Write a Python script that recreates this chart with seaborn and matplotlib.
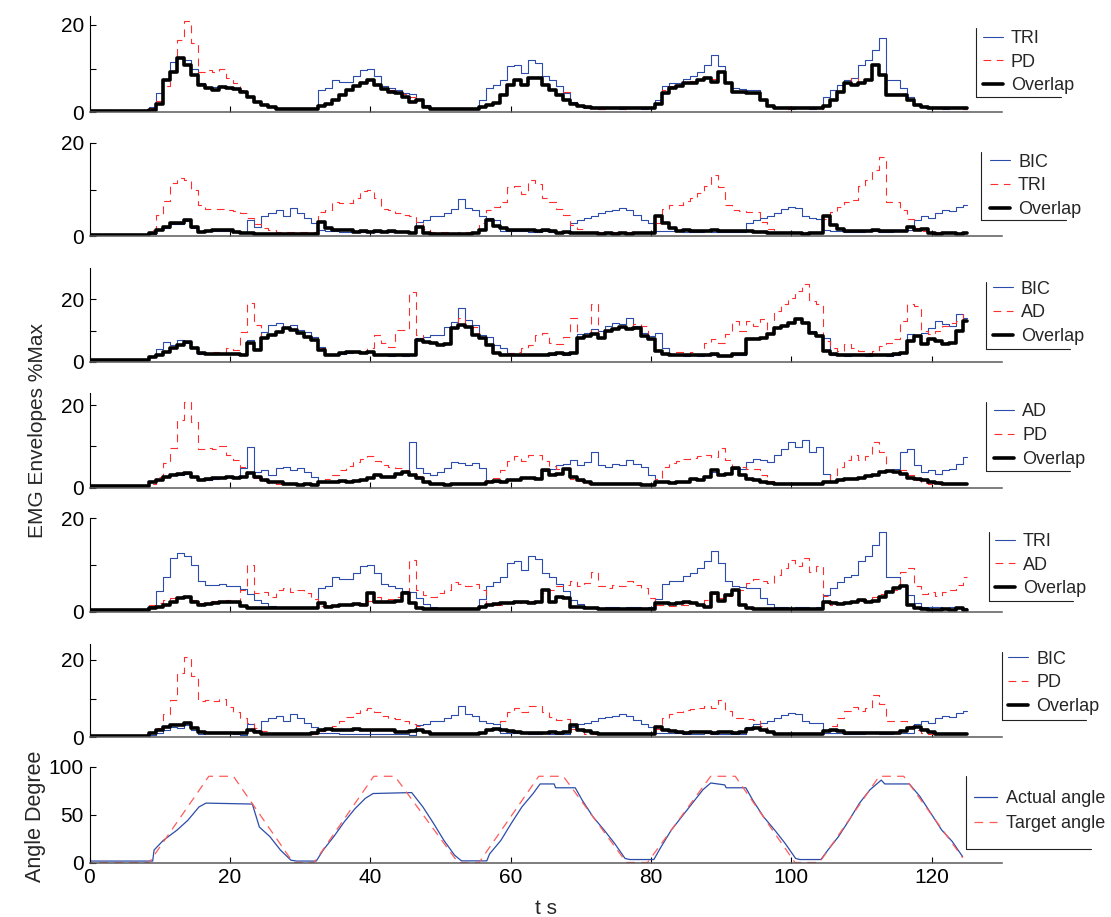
import numpy as np
import matplotlib
matplotlib.use("Agg")
import matplotlib.pyplot as plt
from matplotlib.lines import Line2D
import seaborn as sns

# ---- data (one sample per second, t = 0..125 s) ----
t_s = np.arange(126)

tri = [0.4, 0.4, 0.5, 0.4, 0.4, 0.5, 0.4, 0.4, 0.5, 1.3,
       4.5, 7.5, 11.5, 12.5, 12.0, 10.0, 6.6, 5.8, 5.7, 5.9,
       5.6, 5.4, 4.9, 3.8, 2.6, 1.8, 1.2, 0.9, 0.8, 0.8,
       0.8, 0.8, 0.9, 5.1, 5.5, 7.4, 7.0, 7.0, 8.2, 9.7,
       10.0, 8.2, 5.9, 5.5, 5.0, 4.5, 4.2, 3.0, 1.6, 0.9,
       0.8, 0.8, 0.7, 0.8, 0.8, 0.8, 2.8, 5.5, 6.3, 7.4,
       10.5, 10.8, 9.0, 12.0, 11.2, 8.2, 7.4, 5.9, 4.5, 2.4,
       1.6, 0.9, 0.9, 0.8, 0.9, 0.9, 0.8, 0.9, 0.9, 0.8,
       0.9, 2.8, 5.9, 6.6, 6.6, 7.6, 8.2, 9.3, 10.8, 13.1,
       10.5, 6.6, 5.5, 5.3, 5.1, 5.1, 3.0, 1.6, 0.9, 0.9,
       0.8, 0.9, 0.9, 0.8, 0.9, 3.6, 5.1, 6.3, 7.4, 7.8,
       10.8, 12.0, 14.3, 17.0, 7.4, 7.4, 5.5, 3.6, 1.8, 1.1,
       0.9, 0.9, 0.8, 0.9, 0.9, 0.8]

pd_ = [0.5, 0.4, 0.5, 0.6, 0.4, 0.5, 0.5, 0.4, 0.5, 1.0,
       2.5, 6.0, 9.5, 16.5, 20.8, 15.8, 9.3, 9.7, 9.3, 10.0,
       7.8, 6.6, 5.1, 3.6, 2.4, 1.7, 1.1, 0.9, 0.9, 0.8,
       0.9, 0.9, 0.9, 1.6, 2.0, 3.0, 4.2, 5.3, 6.2, 7.0,
       7.6, 6.5, 5.5, 5.0, 4.8, 4.2, 3.5, 2.9, 1.5, 0.9,
       0.9, 0.8, 0.9, 0.9, 0.8, 0.9, 1.4, 1.8, 2.3, 4.2,
       6.5, 7.6, 6.5, 8.0, 8.0, 6.5, 5.3, 4.5, 4.7, 2.2,
       1.6, 0.9, 0.9, 0.8, 0.9, 0.9, 0.8, 0.9, 0.9, 0.9,
       0.9, 2.1, 5.0, 6.0, 6.5, 7.0, 7.2, 7.6, 8.0, 7.5,
       9.5, 6.8, 4.9, 4.9, 4.6, 4.5, 3.0, 1.6, 0.9, 0.9,
       0.8, 0.9, 0.9, 0.9, 0.8, 1.6, 3.0, 5.0, 6.8, 7.8,
       6.8, 7.6, 11.0, 8.6, 4.2, 4.2, 4.2, 3.0, 1.8, 1.2,
       0.9, 0.9, 0.8, 0.9, 0.9, 0.8]

bic = [0.2, 0.2, 0.3, 0.2, 0.2, 0.2, 0.3, 0.2, 0.2, 0.5,
       1.2, 1.8, 2.6, 2.5, 3.2, 1.8, 0.8, 1.0, 1.0, 1.1,
       1.0, 0.8, 0.6, 3.5, 2.0, 4.2, 4.9, 5.6, 4.2, 6.0,
       4.9, 3.8, 2.7, 1.2, 1.0, 1.0, 0.9, 0.9, 0.8, 0.8,
       0.9, 0.8, 0.8, 0.9, 0.8, 0.8, 0.6, 3.1, 3.5, 4.2,
       4.3, 4.9, 5.8, 8.0, 6.0, 5.6, 4.3, 3.8, 3.5, 1.0,
       1.0, 1.0, 1.0, 0.9, 0.9, 1.0, 0.9, 0.8, 0.8, 2.7,
       3.5, 3.8, 4.2, 4.9, 5.3, 5.6, 6.0, 5.6, 4.5, 3.5,
       2.7, 1.0, 1.0, 1.0, 1.0, 0.9, 0.9, 0.9, 1.0, 0.9,
       0.9, 0.9, 0.8, 0.8, 2.7, 3.5, 3.8, 4.3, 4.9, 5.8,
       6.3, 6.0, 4.2, 3.8, 3.6, 1.2, 1.0, 1.0, 0.9, 0.9,
       0.9, 1.0, 1.0, 0.9, 0.9, 1.0, 1.0, 1.2, 3.5, 4.2,
       3.8, 4.9, 5.6, 5.3, 6.3, 6.7]

ad = [0.5, 0.5, 0.4, 0.5, 0.5, 0.5, 0.4, 0.5, 0.5, 1.4,
      1.8, 2.6, 3.0, 3.1, 3.4, 2.6, 1.8, 1.9, 2.2, 2.3,
      2.6, 2.3, 4.7, 9.9, 3.9, 4.3, 3.1, 4.7, 5.1, 4.3,
      4.7, 3.9, 2.7, 1.3, 1.4, 1.5, 1.6, 1.5, 1.6, 1.9,
      2.3, 3.1, 2.6, 2.7, 3.2, 3.9, 11.1, 4.7, 3.5, 3.1,
      3.9, 4.7, 6.3, 5.9, 5.5, 5.9, 4.7, 1.5, 1.5, 1.5,
      1.9, 1.9, 2.3, 2.3, 2.2, 4.0, 4.6, 5.4, 5.8, 6.6,
      5.4, 6.2, 8.6, 5.4, 5.0, 5.8, 5.4, 6.6, 5.8, 5.0,
      3.0, 1.4, 1.4, 1.2, 1.4, 1.5, 2.0, 1.9, 2.6, 3.8,
      3.0, 3.4, 4.6, 4.6, 6.2, 7.0, 6.6, 6.2, 7.8, 9.4,
      11.0, 9.8, 11.5, 8.6, 9.8, 3.4, 1.5, 1.8, 2.0, 2.2,
      2.3, 2.8, 3.1, 3.8, 4.2, 4.6, 8.6, 9.4, 5.4, 3.8,
      4.2, 3.4, 4.2, 4.6, 5.8, 7.4]

# third panel was recorded on a different scale
bic_p3 = [0.4, 0.4, 0.4, 0.4, 0.4, 0.4, 0.4, 0.4, 0.4, 1.6,
          4.0, 6.4, 5.3, 7.0, 5.9, 4.5, 2.6, 2.4, 2.4, 2.5,
          2.4, 2.4, 2.0, 7.0, 4.0, 9.6, 11.8, 12.3, 11.2, 11.8,
          10.2, 9.6, 8.0, 4.8, 2.0, 2.0, 2.6, 2.9, 3.1, 2.7,
          3.0, 2.0, 2.0, 1.9, 2.0, 1.9, 2.0, 7.5, 8.0, 8.6,
          8.6, 11.2, 12.8, 17.1, 13.4, 11.8, 8.6, 8.0, 5.3, 4.3,
          2.7, 2.0, 2.2, 2.1, 2.0, 2.1, 2.3, 2.8, 2.3, 2.8,
          8.8, 9.3, 10.4, 9.8, 11.4, 12.5, 12.0, 14.1, 11.4, 9.3,
          8.2, 9.3, 4.5, 2.0, 2.2, 1.9, 2.1, 1.9, 2.0, 2.3,
          1.7, 1.7, 2.3, 2.3, 7.6, 7.5, 8.0, 9.2, 11.2, 11.8,
          12.9, 14.0, 12.8, 9.8, 8.6, 7.7, 2.3, 2.0, 1.9, 2.1,
          2.0, 1.9, 2.0, 2.1, 1.9, 2.3, 2.8, 8.8, 8.2, 9.3,
          10.9, 13.0, 12.0, 11.4, 15.2, 14.1]

ad_p3 = [0.8, 0.7, 0.8, 0.9, 0.7, 0.8, 0.8, 0.7, 0.8, 1.8,
         2.3, 3.4, 4.5, 5.5, 6.8, 4.5, 3.0, 2.8, 3.0, 2.9,
         4.3, 3.8, 9.6, 18.7, 11.8, 7.8, 8.8, 9.8, 10.9, 10.4,
         9.3, 8.2, 7.2, 4.3, 2.4, 2.3, 2.9, 3.2, 3.4, 3.0,
         4.3, 8.6, 5.9, 4.8, 10.2, 10.2, 22.5, 8.6, 6.6, 6.1,
         5.5, 6.0, 10.9, 13.9, 11.4, 11.2, 7.7, 5.5, 2.9, 2.3,
         2.7, 3.2, 4.3, 5.3, 8.6, 9.1, 5.9, 5.6, 8.0, 14.1,
         8.0, 8.5, 18.4, 8.0, 10.0, 10.6, 11.3, 10.6, 12.0, 11.5,
         7.4, 3.6, 2.6, 2.8, 3.0, 2.6, 3.2, 2.5, 6.0, 7.2,
         6.0, 8.8, 13.0, 10.0, 13.0, 11.4, 13.6, 9.8, 16.3, 18.4,
         20.5, 22.7, 24.8, 19.5, 18.4, 6.6, 4.5, 3.4, 5.6, 4.5,
         3.4, 2.9, 3.4, 5.0, 6.1, 7.2, 13.0, 18.4, 17.9, 9.8,
         8.8, 9.8, 11.4, 12.5, 13.0, 15.7]

ov_tri_pd = [0.4, 0.4, 0.4, 0.4, 0.4, 0.4, 0.4, 0.4, 0.4, 0.5,
             2.0, 7.4, 9.3, 12.4, 10.8, 8.5, 6.3, 5.5, 5.0, 5.7,
             5.5, 5.3, 4.7, 3.6, 2.4, 1.7, 1.1, 0.8, 0.8, 0.8,
             0.8, 0.8, 0.8, 1.5, 1.9, 2.8, 4.0, 5.1, 6.0, 6.8,
             7.4, 6.3, 5.3, 4.7, 4.4, 3.4, 2.4, 2.8, 1.3, 0.8,
             0.7, 0.7, 0.7, 0.7, 0.7, 0.7, 1.3, 1.7, 2.2, 4.0,
             6.3, 7.4, 6.2, 7.8, 7.8, 6.3, 5.1, 4.0, 2.8, 2.0,
             1.5, 1.1, 0.9, 0.9, 0.9, 0.9, 0.9, 0.9, 0.9, 0.9,
             0.9, 2.0, 4.4, 5.5, 6.0, 6.6, 6.8, 7.4, 7.8, 7.0,
             9.3, 6.6, 4.7, 4.7, 4.5, 4.4, 2.8, 1.5, 0.9, 0.9,
             0.9, 0.9, 0.9, 0.9, 0.9, 1.5, 2.8, 4.7, 6.6, 6.3,
             6.6, 7.4, 10.8, 8.5, 4.0, 4.0, 4.0, 2.8, 1.7, 1.1,
             0.9, 0.9, 0.9, 0.9, 0.9, 0.9]

ov_bic_tri = [0.2, 0.2, 0.2, 0.2, 0.2, 0.2, 0.2, 0.2, 0.2, 0.6,
              1.3, 2.0, 2.9, 2.7, 3.5, 2.0, 0.9, 1.1, 1.2, 1.3,
              1.3, 0.9, 0.6, 0.6, 0.5, 0.5, 0.5, 0.4, 0.5, 0.5,
              0.4, 0.5, 0.5, 3.1, 1.7, 1.3, 1.3, 1.2, 0.9, 1.1,
              0.9, 1.1, 0.9, 1.0, 0.9, 0.9, 0.6, 2.0, 0.6, 0.4,
              0.4, 0.5, 0.4, 0.4, 0.5, 0.6, 1.3, 3.5, 2.2, 1.7,
              1.3, 1.3, 1.2, 1.2, 1.1, 1.2, 1.1, 0.7, 0.8, 0.7,
              0.6, 0.7, 0.6, 0.5, 0.6, 0.5, 0.6, 0.5, 0.6, 0.6,
              0.6, 4.2, 2.7, 1.7, 1.1, 1.2, 1.0, 1.1, 1.0, 1.2,
              1.0, 1.1, 1.0, 1.1, 1.0, 0.9, 0.8, 0.7, 0.6, 0.7,
              0.6, 0.6, 0.5, 0.6, 0.7, 4.2, 2.4, 1.4, 1.1, 1.0,
              1.1, 1.0, 1.2, 1.0, 1.1, 1.0, 1.0, 2.0, 1.2, 1.4,
              0.6, 0.5, 0.6, 0.6, 0.5, 0.6]

ov_bic_ad = [0.5, 0.5, 0.5, 0.5, 0.5, 0.5, 0.5, 0.5, 0.5, 1.6,
             2.1, 3.2, 4.3, 5.3, 6.4, 4.3, 2.7, 2.5, 2.5, 2.6,
             2.5, 2.5, 2.1, 6.0, 3.7, 7.5, 8.6, 9.6, 10.7, 10.2,
             9.1, 8.0, 7.0, 3.7, 2.1, 2.1, 2.7, 3.0, 3.2, 2.8,
             3.2, 2.1, 2.1, 2.0, 2.1, 2.0, 2.1, 7.0, 6.4, 5.9,
             5.3, 5.8, 10.7, 11.8, 11.2, 8.6, 7.5, 5.3, 2.7, 2.1,
             2.2, 2.1, 2.3, 2.2, 2.0, 2.2, 2.4, 2.9, 2.4, 2.9,
             7.7, 8.2, 8.8, 7.7, 9.8, 10.4, 11.1, 10.4, 10.9, 8.2,
             7.2, 3.4, 2.4, 2.1, 2.3, 2.0, 2.2, 2.0, 2.1, 2.4,
             1.8, 1.8, 2.4, 2.4, 7.2, 7.2, 7.7, 8.8, 10.9, 11.4,
             12.5, 13.6, 12.5, 9.3, 8.2, 3.4, 2.4, 2.1, 2.0, 2.2,
             2.1, 2.0, 2.1, 2.2, 2.0, 2.4, 2.9, 6.6, 8.2, 5.6,
             7.2, 6.6, 5.6, 6.0, 9.8, 13.0]

ov_ad_pd = [0.5, 0.5, 0.5, 0.5, 0.5, 0.5, 0.5, 0.5, 0.5, 1.5,
            1.9, 2.7, 3.1, 3.2, 3.5, 2.7, 1.9, 2.0, 2.3, 2.4,
            2.7, 2.4, 2.7, 3.5, 2.7, 1.9, 1.5, 1.3, 0.8, 0.8,
            0.6, 0.8, 0.6, 1.3, 1.5, 1.5, 1.6, 1.5, 1.6, 1.9,
            2.3, 3.1, 2.7, 2.7, 3.2, 3.9, 3.1, 2.4, 1.5, 1.0,
            0.8, 0.6, 0.8, 0.8, 0.8, 0.8, 0.8, 1.5, 1.6, 1.5,
            1.9, 1.9, 2.3, 2.3, 2.2, 4.2, 3.0, 3.4, 4.6, 2.6,
            1.8, 1.4, 1.0, 1.0, 0.9, 0.8, 0.9, 0.8, 0.8, 0.7,
            0.7, 1.4, 1.4, 1.2, 1.4, 1.5, 2.0, 1.8, 2.6, 4.2,
            3.0, 3.4, 4.8, 3.0, 2.2, 1.8, 1.4, 1.2, 1.0, 1.0,
            1.0, 1.0, 1.0, 1.0, 1.0, 1.4, 1.5, 1.8, 2.0, 2.2,
            2.3, 2.8, 3.1, 3.8, 4.0, 3.8, 3.4, 2.3, 2.0, 1.8,
            1.4, 1.2, 1.0, 1.0, 1.0, 1.0]

ov_tri_ad = [0.4, 0.4, 0.4, 0.4, 0.4, 0.4, 0.4, 0.4, 0.4, 0.7,
             1.1, 1.4, 2.1, 2.9, 3.2, 2.1, 1.4, 1.6, 1.8, 2.0,
             2.1, 2.0, 1.3, 0.7, 0.7, 0.8, 0.7, 0.8, 0.7, 0.8,
             0.7, 0.7, 0.7, 1.8, 1.1, 1.3, 1.5, 1.5, 1.6, 1.5,
             4.1, 2.1, 2.0, 2.1, 2.3, 4.1, 1.8, 0.7, 0.6, 0.6,
             0.6, 0.6, 0.6, 0.6, 0.6, 0.6, 1.1, 1.4, 1.6, 1.8,
             1.8, 2.0, 2.1, 1.8, 2.1, 4.6, 2.1, 3.2, 2.9, 1.1,
             0.9, 0.7, 0.8, 0.5, 0.5, 0.5, 0.5, 0.5, 0.5, 0.5,
             0.5, 1.8, 1.8, 1.6, 1.8, 2.0, 1.8, 1.4, 1.1, 3.9,
             2.3, 3.6, 4.6, 1.4, 0.7, 0.6, 0.6, 0.6, 0.6, 0.6,
             0.6, 0.6, 0.6, 0.6, 0.6, 2.1, 1.8, 1.6, 1.8, 2.0,
             2.5, 2.1, 2.3, 3.2, 4.3, 5.0, 5.4, 1.4, 0.7, 0.6,
             0.4, 0.4, 0.5, 0.4, 0.8, 0.4]

ov_bic_pd = [0.3, 0.3, 0.3, 0.3, 0.3, 0.3, 0.3, 0.3, 0.3, 1.0,
             1.9, 2.7, 3.3, 3.2, 3.6, 2.3, 1.3, 1.0, 1.1, 1.2,
             1.1, 1.2, 1.0, 1.9, 1.3, 0.8, 0.8, 0.8, 0.8, 0.8,
             0.8, 0.8, 1.0, 1.9, 2.1, 1.9, 2.0, 1.9, 2.1, 1.8,
             1.9, 2.0, 1.9, 1.8, 1.3, 1.3, 1.6, 1.9, 1.3, 0.8,
             0.8, 0.8, 0.8, 0.8, 0.8, 0.8, 1.0, 1.9, 2.1, 1.9,
             1.6, 1.3, 1.0, 1.0, 1.1, 1.0, 1.3, 1.0, 1.3, 3.2,
             1.9, 1.5, 1.0, 0.8, 0.8, 0.8, 0.8, 0.8, 0.8, 0.8,
             0.8, 2.7, 1.9, 1.5, 1.3, 1.2, 1.3, 1.4, 1.3, 1.2,
             1.3, 1.3, 1.2, 1.3, 2.1, 2.3, 1.9, 1.3, 0.8, 0.8,
             0.8, 0.8, 0.8, 0.8, 0.8, 1.5, 1.9, 1.5, 1.0, 1.1,
             1.0, 1.0, 1.1, 1.0, 1.0, 1.1, 1.5, 2.3, 2.7, 1.9,
             1.3, 0.8, 0.8, 0.8, 0.8, 0.8]

# joint angle (degrees), break points
target_t = [0, 0.1, 8.5, 17, 20.5, 29, 32, 40.5, 43.5, 52.5, 55.5, 64, 67.5,
            76.5, 79.5, 88.5, 92, 100.5, 104, 112.5, 116, 124.4]
target_deg = [100, 0, 0, 90, 90, 0, 0, 90, 90, 0, 0, 90, 90,
              0, 0, 90, 90, 0, 0, 90, 90, 5]

actual_t = [0, 9.0, 9.2, 10.5, 12.5, 14.0, 15.6, 16.6, 23.2, 24.2, 25.7, 27.2,
            28.7, 29.5, 32.3, 33.3, 34.8, 36.3, 37.8, 39.3, 40.4, 45.9, 47.5,
            49.0, 50.5, 52.0, 53.0, 56.6, 57.0, 58.6, 60.1, 61.6, 63.2, 64.2,
            66.2, 66.4, 69.2, 70.2, 71.7, 73.3, 74.8, 76.3, 77.0, 80.4, 81.4,
            82.9, 84.4, 85.9, 87.4, 88.5, 90.5, 90.7, 93.5, 94.5, 96.0, 97.6,
            99.1, 100.6, 101.2, 104.2, 105.2, 106.7, 108.2, 109.7, 111.2,
            112.8, 113.3, 116.8, 118.3, 119.9, 121.4, 122.9, 124.4]
actual_deg = [1.5, 1.5, 13, 23, 34, 44, 58, 62, 61, 37, 27, 13,
              2.4, 1.5, 1.5, 13, 27, 42.5, 56, 67, 72, 73, 58,
              41, 23, 7.7, 1.7, 1.7, 9, 23, 41, 58, 72, 82,
              82, 78, 78, 65, 48, 34, 20, 4.2, 3.1, 3.1, 16,
              34, 48, 62, 76, 83, 81, 78, 78, 65, 48, 34,
              20, 4.2, 3.1, 3.1, 13, 27, 44, 62, 76,
              86, 82, 82, 69, 51, 34, 22, 6]

# ---- style ----
sns.set_theme(style="white")
plt.rcParams['font.family'] = ['Liberation Sans', 'DejaVu Sans']

BLUE = '#2b4ca8'
RED = '#ff2e2e'
PINK = '#ff5c5c'
W, H = 1111, 917
LEFT_PX, RIGHT_PX = 89.5, 1002
FS_LEG = 13

fig = plt.figure(figsize=(W / 100, H / 100), dpi=100)


def fx(px):
    return px / W


def fy(px):
    return 1 - px / H


# (zero line px, top px, y max, blue series, red series, overlap,
#  legend text x px, legend first-row top px, legend frame (left, top, bottom, right))
panels = [
    (112.3, 16, 22, ('TRI', tri), ('PD', pd_), ov_tri_pd, 1011, 30, (976, 28, 97, 1061)),
    (236, 143, 20, ('BIC', bic), ('TRI', tri), ov_bic_tri, 1018, 153.5, (981, 152, 220, 1066)),
    (361.7, 268.3, 30, ('BIC', bic_p3), ('AD', ad_p3), ov_bic_ad, 1021, 280.5, (986, 282, 349, 1070)),
    (487.7, 392.7, 23, ('AD', ad), ('PD', pd_), ov_ad_pd, 1022, 403.5, (986, 402, 471, 1070)),
    (611.7, 518.3, 20, ('TRI', tri), ('AD', ad), ov_tri_ad, 1023, 533, (989, 532, 601, 1073)),
    (737.3, 644.3, 24, ('BIC', bic), ('PD', pd_), ov_bic_pd, 1036, 650.5, (1002, 652, 720, 1086)),
]


def style_axes(ax, ymax, yticks, ylabels, show_x):
    ax.set_xlim(0, 130)
    ax.set_ylim(0, ymax)
    ax.set_xticks([0, 20, 40, 60, 80, 100, 120])
    if show_x:
        ax.set_xticklabels(['0', '20', '40', '60', '80', '100', '120'])
    else:
        ax.set_xticklabels([])
    ax.set_yticks(yticks)
    ax.set_yticklabels(ylabels)
    ax.set_xlabel('')
    ax.set_ylabel('')
    for side in ('top', 'right'):
        ax.spines[side].set_visible(False)
    ax.spines['left'].set_color('black')
    ax.spines['left'].set_linewidth(0.8)
    ax.spines['bottom'].set_color('#5a5a5a')
    ax.spines['bottom'].set_linewidth(1.1)
    ax.tick_params(direction='in', length=4, width=0.8, colors='black',
                   labelsize=15, left=True, bottom=True, pad=4)
    ax.patch.set_alpha(0)


def add_legend(ax, text_x, top_y, frame, hl=1.1, tp=0.45, ls=0.37):
    fs_px = FS_LEG * 100 / 72
    anchor_x = text_x - (hl + tp) * fs_px
    ax.legend(loc='upper left', bbox_to_anchor=(fx(anchor_x), fy(top_y)),
              bbox_transform=fig.transFigure, frameon=False, fontsize=FS_LEG,
              handlelength=hl, handletextpad=tp, labelspacing=ls,
              borderpad=0, borderaxespad=0)
    l, tp_, b, r = frame
    fig.add_artist(Line2D([fx(l), fx(l)], [fy(tp_), fy(b)], color='#222222', lw=0.8))
    fig.add_artist(Line2D([fx(l), fx(r)], [fy(b), fy(b)], color='#222222', lw=0.8))


for zero_px, top_px, ymax, (bname, bvals), (rname, rvals), ov, tx, ty, frame in panels:
    ax = fig.add_axes([fx(LEFT_PX), fy(zero_px), fx(RIGHT_PX - LEFT_PX), (zero_px - top_px) / H])
    sns.lineplot(x=t_s, y=bvals, ax=ax, color=BLUE, lw=0.8, drawstyle='steps-mid', label=bname)
    sns.lineplot(x=t_s, y=rvals, ax=ax, color=RED, lw=0.8, drawstyle='steps-mid',
                 linestyle=(0, (7, 5)), label=rname)
    sns.lineplot(x=t_s, y=ov, ax=ax, color='black', lw=2.6, drawstyle='steps-mid', label='Overlap')
    style_axes(ax, ymax, [0, 10, 20], ['0', '', '20'], False)
    add_legend(ax, tx, ty, frame)

# angle panel
ax = fig.add_axes([fx(LEFT_PX), fy(862.5), fx(RIGHT_PX - LEFT_PX), (862.5 - 766.7) / H])
sns.lineplot(x=actual_t, y=actual_deg, ax=ax, color=BLUE, lw=0.9, label='Actual angle', sort=False)
sns.lineplot(x=target_t, y=target_deg, ax=ax, color=PINK, lw=0.9, linestyle=(0, (7, 5)),
             label='Target angle', sort=False)
style_axes(ax, 100, [0, 50, 100], ['0', '50', '100'], True)
add_legend(ax, 1006, 790, (966, 776, 849, 1091), hl=1.3, tp=0.5, ls=0.45)

fig.text(fx(37.5), fy(431), 'EMG Envelopes %Max', rotation=90, ha='center', va='center', fontsize=15)
fig.text(fx(35), fy(816), 'Angle Degree', rotation=90, ha='center', va='center', fontsize=15.5)
fig.text(fx(546), fy(908), 't s', ha='center', va='center', fontsize=15)

fig.savefig('out.png', dpi=100)
